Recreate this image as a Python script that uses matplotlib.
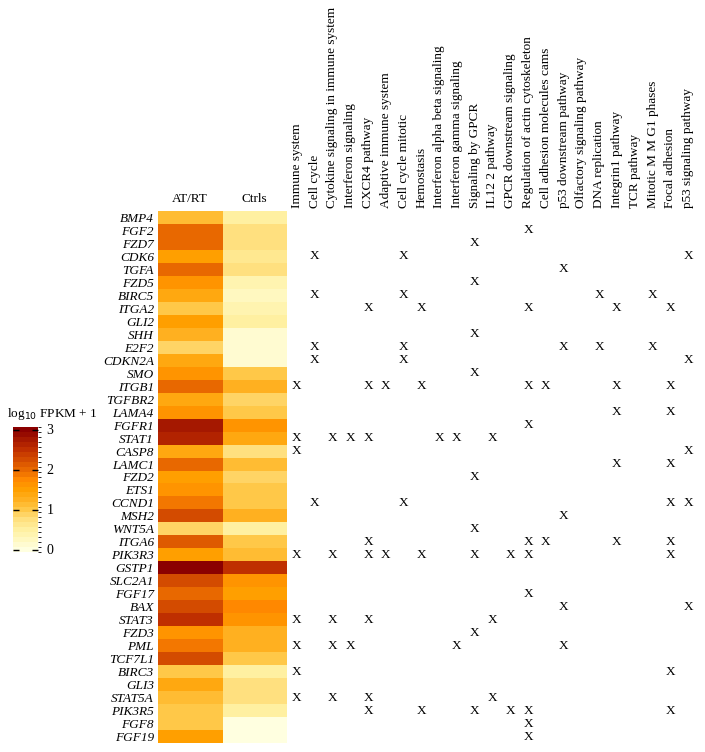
import numpy as np
import matplotlib
matplotlib.use("Agg")
import matplotlib.pyplot as plt
from matplotlib.colors import LinearSegmentedColormap, ListedColormap, BoundaryNorm

plt.rcParams['font.family'] = ['Liberation Serif', 'DejaVu Serif']

genes = ["BMP4", "FGF2", "FZD7", "CDK6", "TGFA", "FZD5", "BIRC5", "ITGA2", "GLI2", "SHH",
         "E2F2", "CDKN2A", "SMO", "ITGB1", "TGFBR2", "LAMA4", "FGFR1", "STAT1", "CASP8", "LAMC1",
         "FZD2", "ETS1", "CCND1", "MSH2", "WNT5A", "ITGA6", "PIK3R3", "GSTP1", "SLC2A1", "FGF17",
         "BAX", "STAT3", "FZD3", "PML", "TCF7L1", "BIRC3", "GLI3", "STAT5A", "PIK3R5", "FGF8", "FGF19"]

groups = ["AT/RT", "Ctrls"]

atrt = [1.15, 1.95, 1.95, 1.55, 1.95, 1.65, 1.35, 1.05, 1.55, 1.2,
        0.9, 1.4, 1.6, 2.0, 1.4, 1.65, 2.8, 2.6, 1.35, 2.0,
        1.45, 1.6, 1.9, 2.2, 0.9, 2.1, 1.55, 3.0, 2.3, 2.05,
        2.3, 2.5, 1.65, 1.9, 2.3, 1.0, 1.4, 1.15, 1.0, 1.05, 1.5]

ctrls = [0.5, 0.8, 0.8, 0.6, 0.7, 0.35, 0.3, 0.35, 0.55, 0.15,
         0.15, 0.1, 1.05, 1.2, 0.9, 1.05, 1.65, 1.4, 0.8, 1.1,
         0.85, 0.95, 1.0, 1.25, 0.55, 1.05, 1.15, 2.45, 1.65, 1.5,
         1.75, 1.65, 1.25, 1.25, 1.0, 0.5, 0.7, 0.7, 0.55, 0.05, 0.05]

pathways = ["Immune system", "Cell cycle", "Cytokine signaling in immune system",
            "Interferon signaling", "CXCR4 pathway", "Adaptive immune system",
            "Cell cycle mitotic", "Hemostasis", "Interferon alpha beta signaling",
            "Interferon gamma signaling", "Signaling by GPCR", "IL12 2 pathway",
            "GPCR downstream signaling", "Regulation of actin cytoskeleton",
            "Cell adhesion molecules cams", "p53 downstream pathway",
            "Olfactory signaling pathway", "DNA replication", "Integrin1 pathway",
            "TCR pathway", "Mitotic M M G1 phases", "Focal adhesion", "p53 signaling pathway"]

# pathway indices marked with X for each gene (same order as genes)
membership = [[], [13], [10], [1, 6, 22], [15], [10], [1, 6, 17, 20], [4, 7, 13, 18, 21], [], [10],
              [1, 6, 15, 17, 20], [1, 6, 22], [10], [0, 4, 5, 7, 13, 14, 18, 21], [], [18, 21], [13],
              [0, 2, 3, 4, 8, 9, 11], [0, 22], [18, 21],
              [10], [], [1, 6, 21, 22], [15], [10], [4, 13, 14, 18, 21],
              [0, 2, 4, 5, 7, 10, 12, 13, 21], [], [], [13],
              [15, 22], [0, 2, 4, 11], [10], [0, 2, 3, 9, 15], [], [0, 21], [], [0, 2, 4, 11],
              [4, 7, 10, 12, 13, 21], [13], [13]]

# colour ramp anchors (value, colour)
ramp_vals = [0.0, 0.5, 0.75, 1.0, 1.25, 1.5, 1.75, 2.0, 2.5, 3.0]
ramp_cols = ["#FFFFE0", "#FFF0A0", "#FFE080", "#FFC848", "#FFB020", "#FFA000",
             "#FF8800", "#E86800", "#C03000", "#8B0000"]

W, H = 705, 752
fig = plt.figure(figsize=(W / 100, H / 100), dpi=100)

def rect(x0, y0, x1, y1):
    return [x0 / W, 1 - y1 / H, (x1 - x0) / W, (y1 - y0) / H]

ramp = LinearSegmentedColormap.from_list("ramp", list(zip([v / 3.0 for v in ramp_vals], ramp_cols)))
nlev = 25
step = 3.0 / (nlev - 1)
bounds = np.linspace(-step / 2, 3 + step / 2, nlev + 1)
cmap = ListedColormap([ramp(i / (nlev - 1)) for i in range(nlev)])
norm = BoundaryNorm(bounds, cmap.N)

n = len(genes)
data = np.column_stack([atrt, ctrls])

# heatmap
axh = fig.add_axes(rect(158, 211, 287, 743))
mesh = axh.pcolormesh(np.arange(3), np.arange(n + 1), data, cmap=cmap, norm=norm)
axh.set_xlim(0, 2)
axh.set_ylim(n, 0)
axh.set_yticks(np.arange(n) + 0.5)
axh.set_yticklabels(genes, fontstyle='italic', fontsize=9.5)
axh.tick_params(axis='y', length=0, pad=3)
axh.set_xticks([])
for s in axh.spines.values():
    s.set_visible(False)
for j, g in enumerate(groups):
    axh.text(j + 0.5, -0.45, g, ha='center', va='bottom', fontsize=9.5)

# X marks
axm = fig.add_axes(rect(288, 211, 697, 743))
axm.set_xlim(-0.5, len(pathways) - 0.5)
axm.set_ylim(n, 0)
axm.axis('off')
for i, idxs in enumerate(membership):
    for j in idxs:
        axm.text(j, i + 0.5, "X", ha='center', va='center', fontsize=9.5)
for j, p in enumerate(pathways):
    axm.text(j, -0.2, p, rotation=90, ha='center', va='bottom', fontsize=9.5)

# colorbar
axc = fig.add_axes(rect(13, 427, 38, 552))
cb = fig.colorbar(mesh, cax=axc, ticks=[0, 1, 2, 3])
cb.outline.set_visible(False)
axc.tick_params(axis='y', direction='in', length=4, width=1, left=True, right=True,
                labelleft=False, labelright=True, labelsize=10, pad=6)
axc.set_yticklabels(["0", "1", "2", "3"])
fig.text(7 / W, 1 - 414 / H, r"log$_{10}$ FPKM + 1", ha='left', va='center', fontsize=9.5)

fig.savefig("out.png", dpi=100)
